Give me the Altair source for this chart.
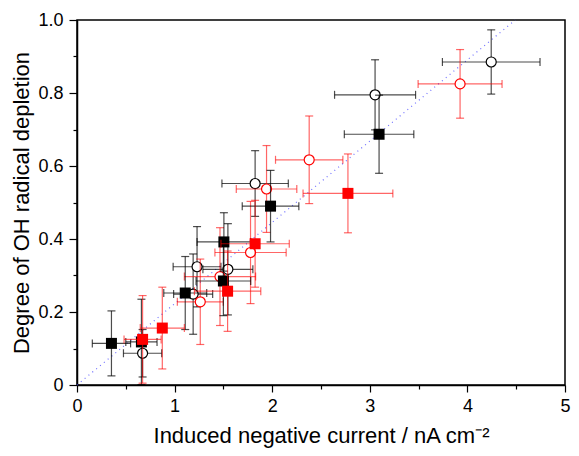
import altair as alt
import pandas as pd

# ---- data ----
# black open circles
bc_x = [4.244, 3.054, 1.825, 1.230, 1.546, 1.190, 0.672]
bc_xerr = [0.50, 0.415, 0.34, 0.245, 0.256, 0.20, 0.196]
bc_y = [0.885, 0.795, 0.552, 0.324, 0.317, 0.249, 0.087]
bc_yerr = [0.088, 0.096, 0.090, 0.110, 0.125, 0.110, 0.065]

# red open circles
rc_x = [3.925, 2.379, 1.942, 1.778, 1.465, 1.263]
rc_xerr = [0.43, 0.345, 0.31, 0.365, 0.365, 0.235]
rc_y = [0.825, 0.617, 0.537, 0.363, 0.297, 0.228]
rc_yerr = [0.094, 0.120, 0.119, 0.140, 0.134, 0.117]

# black filled squares
bs_x = [3.095, 1.983, 1.505, 1.500, 1.109, 0.353, 0.660]
bs_xerr = [0.356, 0.29, 0.275, 0.28, 0.22, 0.196, 0.16]
bs_y = [0.687, 0.490, 0.392, 0.285, 0.252, 0.114, 0.118]
bs_yerr = [0.107, 0.098, 0.080, 0.095, 0.100, 0.089, 0.117]

# red filled squares
rs_x = [2.776, 1.825, 1.543, 0.874, 0.672]
rs_xerr = [0.46, 0.35, 0.34, 0.226, 0.19]
rs_y = [0.525, 0.387, 0.257, 0.156, 0.125]
rs_yerr = [0.108, 0.119, 0.110, 0.112, 0.120]

# dotted guide line end points
guide_x = [0.0, 4.49]
guide_y = [0.0, 1.0]

x_ticks = [0, 0.5, 1, 1.5, 2, 2.5, 3, 3.5, 4, 4.5, 5]
y_ticks = [0, 0.1, 0.2, 0.3, 0.4, 0.5, 0.6, 0.7, 0.8, 0.9, 1.0]

X_TITLE = "Induced negative current / nA cm\u207b\u00b2"
Y_TITLE = "Degree of OH radical depletion"

FONT = "Liberation Sans"

xscale = alt.Scale(domain=[0, 5], nice=False, zero=False)
yscale = alt.Scale(domain=[0, 1], nice=False, zero=False)

xaxis = alt.Axis(
    values=x_ticks,
    labelExpr="round(datum.value*2) % 2 == 0 ? format(datum.value, 'd') : ''",
    tickSize={"condition": {"test": "round(datum.value*2) % 2 == 0", "value": 7}, "value": 4},
    labelPadding=5,
    labelFlush=False,
    titlePadding=10,
    grid=False,
)
yaxis = alt.Axis(
    values=y_ticks,
    labelExpr="round(datum.value*10) % 2 == 0 ? (datum.value == 0 ? '0' : format(datum.value, '.1f')) : ''",
    tickSize={"condition": {"test": "round(datum.value*10) % 2 == 0", "value": 8}, "value": 4},
    labelPadding=6,
    labelFlush=False,
    titlePadding=4,
    grid=False,
)


def X(field):
    return alt.X(field, type="quantitative", scale=xscale, axis=xaxis, title=X_TITLE)


def Y(field):
    return alt.Y(field, type="quantitative", scale=yscale, axis=yaxis, title=Y_TITLE)


def series(xs, xe, ys, ye, color, bar_opacity, kind):
    df = pd.DataFrame({"x": xs, "xerr": xe, "y": ys, "yerr": ye})
    base = alt.Chart(df).transform_calculate(
        xlo="datum.x - datum.xerr",
        xhi="datum.x + datum.xerr",
        ylo="datum.y - datum.yerr",
        yhi="datum.y + datum.yerr",
    )
    sw = 1.2
    xbar = base.mark_rule(color=color, opacity=bar_opacity, strokeWidth=sw).encode(
        x=X("xlo"), x2="xhi:Q", y=Y("y")
    )
    ybar = base.mark_rule(color=color, opacity=bar_opacity, strokeWidth=sw).encode(
        x=X("x"), y=Y("ylo"), y2="yhi:Q"
    )
    xcap = base.transform_fold(["xlo", "xhi"], as_=["k", "xc"]).mark_tick(
        color=color, opacity=bar_opacity, orient="vertical", size=8, thickness=sw
    ).encode(x=X("xc"), y=Y("y"))
    ycap = base.transform_fold(["ylo", "yhi"], as_=["k", "yc"]).mark_tick(
        color=color, opacity=bar_opacity, orient="horizontal", size=8, thickness=sw
    ).encode(x=X("x"), y=Y("yc"))
    if kind == "circle":
        marker = base.mark_circle(
            fill="white", stroke=color, strokeWidth=1.2, size=100, opacity=1
        ).encode(x=X("x"), y=Y("y"))
    else:
        marker = base.mark_square(color=color, size=121, opacity=1).encode(
            x=X("x"), y=Y("y")
        )
    return [xbar, ybar, xcap, ycap, marker]


guide = alt.Chart(pd.DataFrame({"x": guide_x, "y": guide_y})).mark_line(
    color="#4a4aff", strokeDash=[1, 4], strokeWidth=1.2, opacity=0.8
).encode(x=X("x"), y=Y("y"))

layers = [guide]
layers += series(bc_x, bc_xerr, bc_y, bc_yerr, "#000000", 0.7, "circle")
layers += series(rc_x, rc_xerr, rc_y, rc_yerr, "#ff0000", 0.6, "circle")
layers += series(bs_x, bs_xerr, bs_y, bs_yerr, "#000000", 0.7, "square")
layers += series(rs_x, rs_xerr, rs_y, rs_yerr, "#ff0000", 0.6, "square")

chart = (
    alt.layer(*layers)
    .properties(
        width=488,
        height=365,
        autosize=alt.AutoSizeParams(type="none"),
        padding={"left": 69, "top": 12, "right": 6, "bottom": 63},
        background="white",
    )
    .configure_view(stroke="black", strokeWidth=1.5)
    .configure_axis(
        domainColor="black",
        domainWidth=1.5,
        tickColor="black",
        tickWidth=1.2,
        labelFont=FONT,
        labelFontSize=18,
        labelColor="black",
        titleFont=FONT,
        titleFontSize=22,
        titleFontWeight="normal",
        titleColor="black",
    )
)

chart.save("out.html", embed_options={"renderer": "svg", "actions": False})
